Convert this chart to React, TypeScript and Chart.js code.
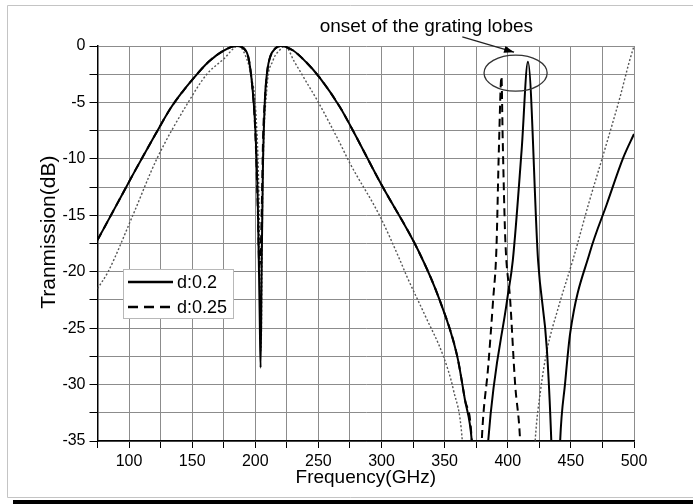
import React, { useEffect, useRef } from 'react';
import { Chart, registerables } from 'chart.js';

Chart.register(...registerables);

// ---- data ----
const solidFreq = [75, 90, 105, 120, 133, 142, 150, 163, 175, 185, 193, 197, 200, 202, 203.5, 204.2, 205, 206, 207.5, 209.5, 212, 216, 220, 230, 240, 251, 267, 275, 299, 329, 346, 360, 366, 371.5, 378, 384.5, 399.5, 404, 411, 416, 424, 431, 434.5, 438, 441.5, 445.4, 449.5, 465, 478.5, 491.5, 500];
const solidDb = [-17.2, -14.1, -11.0, -8.0, -5.5, -4.1, -3.0, -1.4, -0.4, 0, -0.5, -2.9, -7.3, -14, -24, -28.5, -20, -11, -5, -2.2, -0.9, -0.2, 0, -0.4, -1.4, -2.8, -5.4, -7.0, -12.1, -18.1, -22.5, -27.5, -31.3, -35, -48, -35, -22.5, -19, -9.2, -1.4, -19, -26.9, -35, -48, -35, -29.9, -25.4, -18.3, -14.0, -9.9, -7.8];

const dashFreq = [75, 90, 105, 120, 133, 142, 150, 163, 175, 185, 193, 197, 200, 202, 203.2, 204.6, 205.2, 206.2, 207.5, 209.5, 212, 216, 220, 230, 240, 251, 267, 275, 299, 329, 346, 360, 366, 371.5, 375.5, 379.4, 384.5, 388.4, 391, 393, 395, 396, 398, 401.9, 405.8, 409.8, 414];
const dashDb = [-17.2, -14.1, -11.0, -8.0, -5.5, -4.1, -3.0, -1.4, -0.4, 0, -0.5, -2.9, -7.6, -14.5, -19.5, -17, -14, -8, -5, -2.2, -0.9, -0.2, 0, -0.4, -1.4, -2.8, -5.4, -7.0, -12.1, -18.1, -22.5, -27.5, -31.3, -35, -48, -35, -28.4, -22.5, -18, -9, -2.7, -8.3, -17, -22.5, -29.9, -35, -48];

const dotFreq = [75, 83.4, 103, 122, 146.8, 161.6, 175, 186.5, 192, 197, 200.5, 203, 204.5, 206, 209, 214, 219, 223.5, 231, 240, 250, 267, 275, 298.8, 314.7, 320, 335, 349, 357, 364, 370, 416, 421.7, 426, 431, 440, 452, 464, 476, 489, 496, 500];
const dotDb = [-21.5, -20, -15, -10, -5, -2.5, -1.15, 0, -0.8, -2.8, -6, -14, -27, -12, -4, -1.3, -0.4, 0, -1.4, -3.1, -5, -8.6, -10.4, -15.1, -19, -20.4, -24, -27.5, -30.5, -35, -48, -48, -35, -30.5, -27, -23.2, -18.8, -14, -9.5, -4.5, -1.5, 0];

const seriesLabels = ['d:0.2', 'd:0.25'];

const xMin = 75;
const xMax = 500;
const xStep = 25;
const xLabelEvery = 50;
const yMin = -35;
const yMax = 0;
const yStep = 2.5;
const yLabelEvery = 5;

const xTitle = 'Frequency(GHz)';
const yTitle = 'Tranmission(dB)';
const yTitleCenterDb = -16.5;

const noteText = 'onset of the grating lobes';
const noteTextAt = [251, 1.2];
const noteArrowFrom = [364, 0.8];
const noteArrowTo = [405, -0.55];
const noteEllipseCenter = [406.2, -2.4];
const noteEllipseRadius = [25, 1.6];

const FONT = "'Liberation Sans', Arial, Helvetica, sans-serif";

const zip = (xs: number[], ys: number[]) => xs.map((x, i) => ({ x, y: ys[i] }));

const framePlugin = {
  id: 'frame',
  beforeDraw(chart: any) {
    const ctx = chart.ctx;
    ctx.save();
    ctx.fillStyle = '#ffffff';
    ctx.fillRect(0, 0, chart.width, chart.height);
    ctx.strokeStyle = '#c4c4c4';
    ctx.lineWidth = 1;
    ctx.beginPath();
    ctx.moveTo(chart.width + 5, 5.5);
    ctx.lineTo(7.5, 5.5);
    ctx.lineTo(7.5, 497.5);
    ctx.lineTo(chart.width + 5, 497.5);
    ctx.stroke();
    ctx.fillStyle = '#000000';
    ctx.fillRect(13, 500, chart.width, 4);
    ctx.restore();
  },
};

const notePlugin = {
  id: 'notes',
  afterDraw(chart: any) {
    const ctx = chart.ctx;
    const xs = chart.scales.x;
    const ys = chart.scales.y;
    const area = chart.chartArea;
    ctx.save();

    // y axis title
    ctx.save();
    ctx.translate(xs.left - 48, ys.getPixelForValue(yTitleCenterDb));
    ctx.rotate(-Math.PI / 2);
    ctx.font = `21px ${FONT}`;
    ctx.fillStyle = '#000';
    ctx.textAlign = 'center';
    ctx.textBaseline = 'middle';
    ctx.fillText(yTitle, 0, 0);
    ctx.restore();

    // legend
    const lx = area.left + 25.5;
    const ly = area.top + 223;
    const lw = 110;
    const lh = 49;
    ctx.fillStyle = '#ffffff';
    ctx.fillRect(lx, ly, lw, lh);
    ctx.strokeStyle = '#b8b8b8';
    ctx.lineWidth = 1;
    ctx.strokeRect(lx + 0.5, ly + 0.5, lw, lh);
    const dsets = chart.data.datasets;
    for (let i = 0; i < 2; i++) {
      const ds = dsets[i];
      const yy = ly + 13 + i * 25;
      ctx.strokeStyle = '#000';
      ctx.lineWidth = 2.5;
      ctx.setLineDash(i === 1 ? [10, 6] : []);
      ctx.beginPath();
      ctx.moveTo(lx + 5, yy);
      ctx.lineTo(lx + 50, yy);
      ctx.stroke();
      ctx.setLineDash([]);
      ctx.fillStyle = '#000';
      ctx.font = `18px ${FONT}`;
      ctx.textBaseline = 'middle';
      ctx.textAlign = 'left';
      ctx.fillText(ds.label, lx + 54, yy + 1);
    }

    // annotation text
    ctx.font = `19px ${FONT}`;
    ctx.fillStyle = '#000';
    ctx.textBaseline = 'alphabetic';
    ctx.textAlign = 'left';
    ctx.fillText(noteText, xs.getPixelForValue(noteTextAt[0]), ys.getPixelForValue(noteTextAt[1]));

    // arrow
    const ax0 = xs.getPixelForValue(noteArrowFrom[0]);
    const ay0 = ys.getPixelForValue(noteArrowFrom[1]);
    const ax1 = xs.getPixelForValue(noteArrowTo[0]);
    const ay1 = ys.getPixelForValue(noteArrowTo[1]);
    ctx.strokeStyle = '#222';
    ctx.lineWidth = 1.3;
    ctx.beginPath();
    ctx.moveTo(ax0, ay0);
    ctx.lineTo(ax1, ay1);
    ctx.stroke();
    const ang = Math.atan2(ay1 - ay0, ax1 - ax0);
    const hl = 10;
    const hw = 3.5;
    ctx.fillStyle = '#000';
    ctx.beginPath();
    ctx.moveTo(ax1, ay1);
    ctx.lineTo(ax1 - hl * Math.cos(ang) + hw * Math.sin(ang), ay1 - hl * Math.sin(ang) - hw * Math.cos(ang));
    ctx.lineTo(ax1 - hl * Math.cos(ang) - hw * Math.sin(ang), ay1 - hl * Math.sin(ang) + hw * Math.cos(ang));
    ctx.closePath();
    ctx.fill();

    // ellipse
    const ecx = xs.getPixelForValue(noteEllipseCenter[0]);
    const ecy = ys.getPixelForValue(noteEllipseCenter[1]);
    const erx = Math.abs(xs.getPixelForValue(noteEllipseCenter[0] + noteEllipseRadius[0]) - ecx);
    const ery = Math.abs(ys.getPixelForValue(noteEllipseCenter[1] + noteEllipseRadius[1]) - ecy);
    ctx.strokeStyle = '#333';
    ctx.lineWidth = 1.3;
    ctx.beginPath();
    ctx.ellipse(ecx, ecy, erx, ery, 0, 0, Math.PI * 2);
    ctx.stroke();

    ctx.restore();
  },
};

export default function App() {
  const ref = useRef<HTMLCanvasElement | null>(null);

  useEffect(() => {
    document.body.style.margin = '0';
    const canvas = ref.current;
    if (!canvas) return;
    Chart.defaults.font.family = FONT;
    const chart = new Chart(canvas, {
      type: 'line',
      data: {
        datasets: [
          {
            label: seriesLabels[0],
            data: zip(solidFreq, solidDb),
            borderColor: '#000000',
            borderWidth: 2,
            pointRadius: 0,
            cubicInterpolationMode: 'monotone',
            fill: false,
          },
          {
            label: seriesLabels[1],
            data: zip(dashFreq, dashDb),
            borderColor: '#000000',
            borderWidth: 2,
            borderDash: [8, 5],
            pointRadius: 0,
            cubicInterpolationMode: 'monotone',
            fill: false,
          },
          {
            label: '',
            data: zip(dotFreq, dotDb),
            borderColor: '#555555',
            borderWidth: 1.4,
            borderDash: [2, 2],
            pointRadius: 0,
            cubicInterpolationMode: 'monotone',
            fill: false,
          },
        ],
      },
      options: {
        animation: false,
        responsive: false,
        devicePixelRatio: 1,
        layout: { padding: { left: 38, top: 46, right: 59, bottom: 14.6 } },
        plugins: {
          legend: { display: false },
          tooltip: { enabled: false },
        },
        scales: {
          x: {
            type: 'linear',
            min: xMin,
            max: xMax,
            ticks: {
              stepSize: xStep,
              autoSkip: false,
              maxRotation: 0,
              color: '#000',
              font: { size: 16, family: FONT },
              padding: 4,
              callback: (v: any) => (Number(v) % xLabelEvery === 0 ? String(v) : ''),
            },
            grid: { color: '#8c8c8c', lineWidth: 1, tickColor: '#000', tickLength: 7 },
            border: { color: '#000', width: 1.5 },
            title: { display: true, text: xTitle, color: '#000', font: { size: 19, family: FONT }, padding: 0 },
            afterFit: (s: any) => {
              s.height = 48.4;
            },
          },
          y: {
            type: 'linear',
            min: yMin,
            max: yMax,
            ticks: {
              stepSize: yStep,
              autoSkip: false,
              color: '#000',
              font: { size: 16, family: FONT },
              padding: 4,
              callback: (v: any) => (Math.abs(Number(v) % yLabelEvery) < 1e-9 ? String(v) : ''),
            },
            grid: { color: '#8c8c8c', lineWidth: 1, tickColor: '#000', tickLength: 8 },
            border: { color: '#000', width: 1.5 },
            title: { display: false, text: yTitle },
            afterFit: (s: any) => {
              s.width = 59.5;
            },
          },
        },
      },
      plugins: [framePlugin, notePlugin],
    } as any);
    return () => chart.destroy();
  }, []);

  return (
    <div style={{ position: 'absolute', left: 0, top: 0, width: 693, height: 504 }}>
      <canvas ref={ref} width={693} height={504} style={{ display: 'block', width: 693, height: 504 }} />
    </div>
  );
}
